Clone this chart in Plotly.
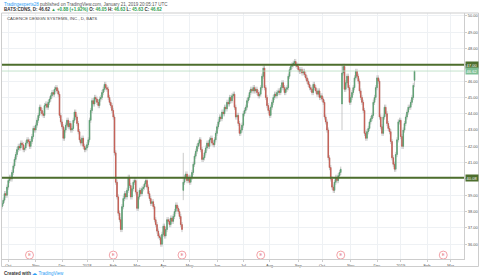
import plotly.graph_objects as go
import pandas as pd

# ---------------- data ----------------
closes = [
    38.5, 38.7, 39.1, 39.0, 39.5, 39.9, 40.1, 40.0, 40.4, 40.8,
    41.2, 41.5, 41.8, 42.0, 41.9, 42.2, 42.1, 41.8, 41.9, 42.2,
    42.4, 42.3, 42.0, 42.3, 42.6, 43.1, 43.0, 43.3, 43.6, 43.9,
    44.4, 44.2, 44.0, 43.9, 44.5, 44.6, 44.4, 44.7, 44.9, 45.1,
    45.3, 45.2, 45.5, 45.6, 45.4, 45.2, 43.9, 43.5, 43.2, 42.5,
    43.0, 43.3, 43.6, 43.2, 43.4, 43.0, 43.1, 43.6, 44.1, 43.8,
    43.4, 42.9, 42.4, 42.2, 42.5, 42.0, 41.8, 41.9, 42.1, 42.4,
    43.6, 44.2, 44.8, 44.6, 45.0, 44.9, 44.7, 44.5, 44.9, 45.0,
    45.3, 45.5, 45.8, 45.6, 45.5, 45.0, 44.7, 44.5, 44.2, 43.8,
    41.6, 39.8, 38.9, 37.9, 37.5, 36.9, 38.3, 38.8, 39.1, 38.9,
    39.3, 40.1, 39.6, 38.9, 39.4, 39.8, 39.9, 39.2, 38.2, 38.9,
    39.3, 39.1, 39.4, 39.5, 39.7, 39.9, 39.5, 39.1, 38.8, 38.5,
    38.6, 38.3, 37.5, 37.2, 36.8, 36.5, 36.4, 36.0, 36.6, 37.1,
    36.5, 36.9, 37.5, 37.4, 37.2, 37.6, 37.4, 37.7, 38.0, 38.4,
    38.2, 38.0, 37.7, 37.2, 36.9, 39.8, 40.1, 40.3, 39.9, 40.1,
    39.8, 40.1, 40.4, 40.9, 41.4, 41.7, 42.0, 42.2, 42.4, 41.8,
    41.2, 41.3, 41.6, 41.9, 42.2, 42.0, 42.4, 42.5, 42.2, 42.1,
    42.4, 42.8, 43.2, 43.5, 43.8, 43.7, 44.1, 44.0, 44.4, 44.3,
    44.7, 44.6, 45.0, 44.8, 45.1, 45.2, 44.4, 43.8, 43.9, 43.4,
    42.8, 43.0, 43.3, 44.0, 44.2, 44.4, 44.8, 45.0, 45.3, 45.5,
    45.4, 45.6, 45.4, 45.5, 45.3, 45.1, 45.2, 45.6, 46.3, 46.8,
    45.6, 45.0, 44.5, 44.2, 43.9, 44.4, 44.7, 45.0, 45.2, 45.1,
    45.3, 45.4, 45.3, 45.6, 45.9, 45.6, 45.3, 45.5, 45.6, 46.3,
    46.7, 46.9, 47.0, 47.1, 47.2, 47.0, 46.9, 46.7, 46.6, 46.7,
    46.5, 46.6, 46.4, 46.2, 46.0, 45.8, 45.6, 45.5, 45.3, 45.8,
    45.6, 45.4, 45.2, 45.4, 45.0, 45.1, 44.9, 44.7, 43.8, 43.5,
    43.0, 41.3, 40.7, 40.0, 39.5, 39.3, 39.8, 40.1, 39.9, 40.2,
    40.4, 40.6, 46.5, 46.9, 45.5, 45.9, 46.3, 45.6, 44.7, 45.0,
    45.3, 45.6, 46.2, 46.6, 46.3, 46.0, 45.4, 45.0, 44.7, 44.2,
    42.8, 42.5, 42.9, 43.1, 43.5, 43.7, 43.9, 44.7, 45.0, 45.6,
    46.2, 46.0, 43.8, 43.2, 42.8, 43.8, 44.4, 44.0, 43.4, 43.1,
    42.9, 42.3, 41.3, 40.9, 40.6, 41.5, 42.4, 43.5, 43.6, 42.6,
    42.0, 43.0, 43.4, 43.8, 44.1, 44.4, 44.4, 44.7, 45.0, 45.74,
    46.62,
]
first_open = 38.3
last_open, last_high, last_low, last_close = 46.05, 46.63, 45.63, 46.62
change, change_pct = 0.88, 1.92

# gap days after earnings: date -> (open, high, low)
gap_days = {
    "2018-04-24": (39.3, 41.6, 38.7),
    "2018-10-23": (44.6, 47.0, 43.0),
}

level_top = 47.00
level_bottom = 40.08

market_holidays = [
    "2017-11-23", "2017-12-25", "2018-01-01", "2018-01-15", "2018-02-19",
    "2018-03-30", "2018-05-28", "2018-07-04", "2018-09-03", "2018-11-22",
    "2018-12-05", "2018-12-25", "2019-01-01", "2019-01-21", "2019-02-18",
]
earnings_dates = ["2017-10-25", "2018-02-01", "2018-04-23", "2018-07-23",
                  "2018-10-22", "2019-02-21"]

y_ticks = [36, 37, 38, 39, 40, 41, 42, 43, 44, 45, 46, 47, 48, 49, 50]

# ---------------- styling ----------------
W, H = 480, 279
ML, MR, MT, MB = 1, 16, 13, 20
UP = "#54a06d"
DOWN = "#c8574c"
WICK = "#b3b3b3"
LEVEL = "#4d6e2d"
GRID = "#eef1f4"
AXIS = "#cdcdcd"
FONT = "Liberation Sans"
WICK_PAD = 0.16

# trading-day calendar
dates = [d for d in pd.bdate_range("2017-09-25", "2019-04-30")
         if d.strftime("%Y-%m-%d") not in market_holidays]
date_pos = {d.strftime("%Y-%m-%d"): i for i, d in enumerate(dates)}

n = len(closes)
xs = list(range(n))
opens = [first_open] + closes[:-1]
opens[-1] = last_open
for ds, (o, h, l) in gap_days.items():
    opens[date_pos[ds]] = o
body_hi = [max(o, c) for o, c in zip(opens, closes)]
body_lo = [min(o, c) for o, c in zip(opens, closes)]
highs = [h + WICK_PAD for h in body_hi]
lows = [l - WICK_PAD for l in body_lo]
highs[-1], lows[-1] = last_high, last_low
for ds, (o, h, l) in gap_days.items():
    highs[date_pos[ds]] = h
    lows[date_pos[ds]] = l

x_range = [-0.8, 369.6]
y_range = [35.09, 50.18]

# month ticks
tickvals, ticktext = [], []
seen = set()
for i, d in enumerate(dates):
    key = (d.year, d.month)
    if key in seen:
        continue
    seen.add(key)
    if i == 0 or i > x_range[1]:
        continue
    tickvals.append(i)
    ticktext.append(str(d.year) if d.month == 1 else d.strftime("%b"))

plot_w = W - ML - MR
plot_h = H - MT - MB


def px_x(p):
    return (p - ML) / plot_w


def px_y(q):
    return (H - MB - q) / plot_h


fig = go.Figure()

# wicks
fig.add_trace(go.Candlestick(
    x=xs, open=opens, high=highs, low=lows, close=closes,
    increasing=dict(line=dict(color=WICK, width=0.7), fillcolor=WICK),
    decreasing=dict(line=dict(color=WICK, width=0.7), fillcolor=WICK),
    whiskerwidth=0, showlegend=False, hoverinfo="skip"))
# bodies
fig.add_trace(go.Candlestick(
    x=xs, open=opens, high=body_hi, low=body_lo, close=closes,
    increasing=dict(line=dict(color=UP, width=0.6), fillcolor=UP),
    decreasing=dict(line=dict(color=DOWN, width=0.6), fillcolor=DOWN),
    whiskerwidth=0, showlegend=False))

# earnings markers
earn_x = [date_pos[d] for d in earnings_dates]
fig.add_trace(go.Scatter(
    x=earn_x, y=[35.33] * len(earn_x), mode="markers+text",
    marker=dict(symbol="circle", size=8, color="white",
                line=dict(color="#f3a2a8", width=1)),
    text=["E"] * len(earn_x), textposition="middle center",
    textfont=dict(size=4, color="#e0636d", family=FONT),
    showlegend=False, hoverinfo="skip", cliponaxis=False))

shapes = [
    dict(type="line", xref="paper", yref="y", x0=0, x1=1, y0=level_top, y1=level_top,
         line=dict(color=LEVEL, width=2)),
    dict(type="line", xref="paper", yref="y", x0=0, x1=1, y0=level_bottom, y1=level_bottom,
         line=dict(color=LEVEL, width=2)),
    dict(type="line", xref="paper", yref="y", x0=0, x1=1, y0=last_close, y1=last_close,
         line=dict(color="#b5dcc0", width=0.8)),
    dict(type="rect", xref="paper", yref="paper",
         x0=px_x(1.5), x1=px_x(478.5), y0=px_y(266.5), y1=px_y(13),
         line=dict(color=AXIS, width=1), fillcolor="rgba(0,0,0,0)", layer="above"),
]

annotations = [
    dict(xref="paper", yref="paper", x=px_x(2), y=px_y(4.5), xanchor="left", yanchor="middle",
         showarrow=False, font=dict(family=FONT, size=4.5, color="#555555"),
         text="<span style='color:#2a9df4'>Tradingexperts28</span> published on TradingView.com, "
              "January 21, 2019 20:05:17 UTC"),
    dict(xref="paper", yref="paper", x=px_x(2), y=px_y(10), xanchor="left", yanchor="middle",
         showarrow=False, font=dict(family=FONT, size=4.5, color="#333333"),
         text=f"<b>BATS:CDNS, D: {last_close:.2f} <span style='color:#2e9e4f'>▲ +{change:.2f} "
              f"(+{change_pct:.2f}%)</span> O: <span style='color:#2e9e4f'>{last_open:.2f}</span> "
              f"H: <span style='color:#2e9e4f'>{last_high:.2f}</span> "
              f"L: <span style='color:#2e9e4f'>{last_low:.2f}</span> "
              f"C: <span style='color:#2e9e4f'>{last_close:.2f}</span></b>"),
    dict(xref="paper", yref="paper", x=px_x(5), y=px_y(18.5), xanchor="left", yanchor="middle",
         showarrow=False, font=dict(family=FONT, size=4.3, color="#444444"),
         text="CADENCE DESIGN SYSTEMS, INC., D, BATS"),
    dict(xref="paper", yref="paper", x=px_x(2), y=px_y(273), xanchor="left", yanchor="middle",
         showarrow=False, font=dict(family=FONT, size=4.5, color="#333333"),
         text="<b>Created with</b> <span style='color:#2a9df4'>☁ TradingView</span>"),
]

for val, bg, fg in [(level_top, LEVEL, "white"), (last_close, "#7ebf95", "white"),
                    (level_bottom, LEVEL, "white")]:
    annotations.append(dict(
        xref="paper", yref="y", x=px_x(465), y=val, xanchor="left", yanchor="middle",
        showarrow=False, text=f"{val:.2f}", bgcolor=bg, borderpad=0.6,
        font=dict(family=FONT, size=4, color=fg)))

fig.update_layout(
    width=W, height=H,
    margin=dict(l=ML, r=MR, t=MT, b=MB, pad=0),
    paper_bgcolor="white", plot_bgcolor="white",
    font=dict(family=FONT, size=4, color="#555555"),
    shapes=shapes, annotations=annotations,
    showlegend=False,
    xaxis=dict(range=x_range, tickmode="array", tickvals=tickvals, ticktext=ticktext,
               showgrid=True, gridcolor=GRID, gridwidth=1, zeroline=False,
               showline=True, linecolor=AXIS, linewidth=1,
               ticks="outside", ticklen=2, tickcolor=AXIS,
               tickfont=dict(size=4, color="#555555", family=FONT),
               rangeslider=dict(visible=False), fixedrange=True),
    yaxis=dict(range=y_range, side="right", tickmode="array", tickvals=y_ticks,
               ticktext=[f"{v:.2f}" for v in y_ticks],
               showgrid=True, gridcolor=GRID, gridwidth=1, zeroline=False,
               showline=True, linecolor=AXIS, linewidth=1,
               ticks="outside", ticklen=2, tickcolor=AXIS,
               tickfont=dict(size=4, color="#555555", family=FONT), fixedrange=True),
)

fig.write_html("out.html")
